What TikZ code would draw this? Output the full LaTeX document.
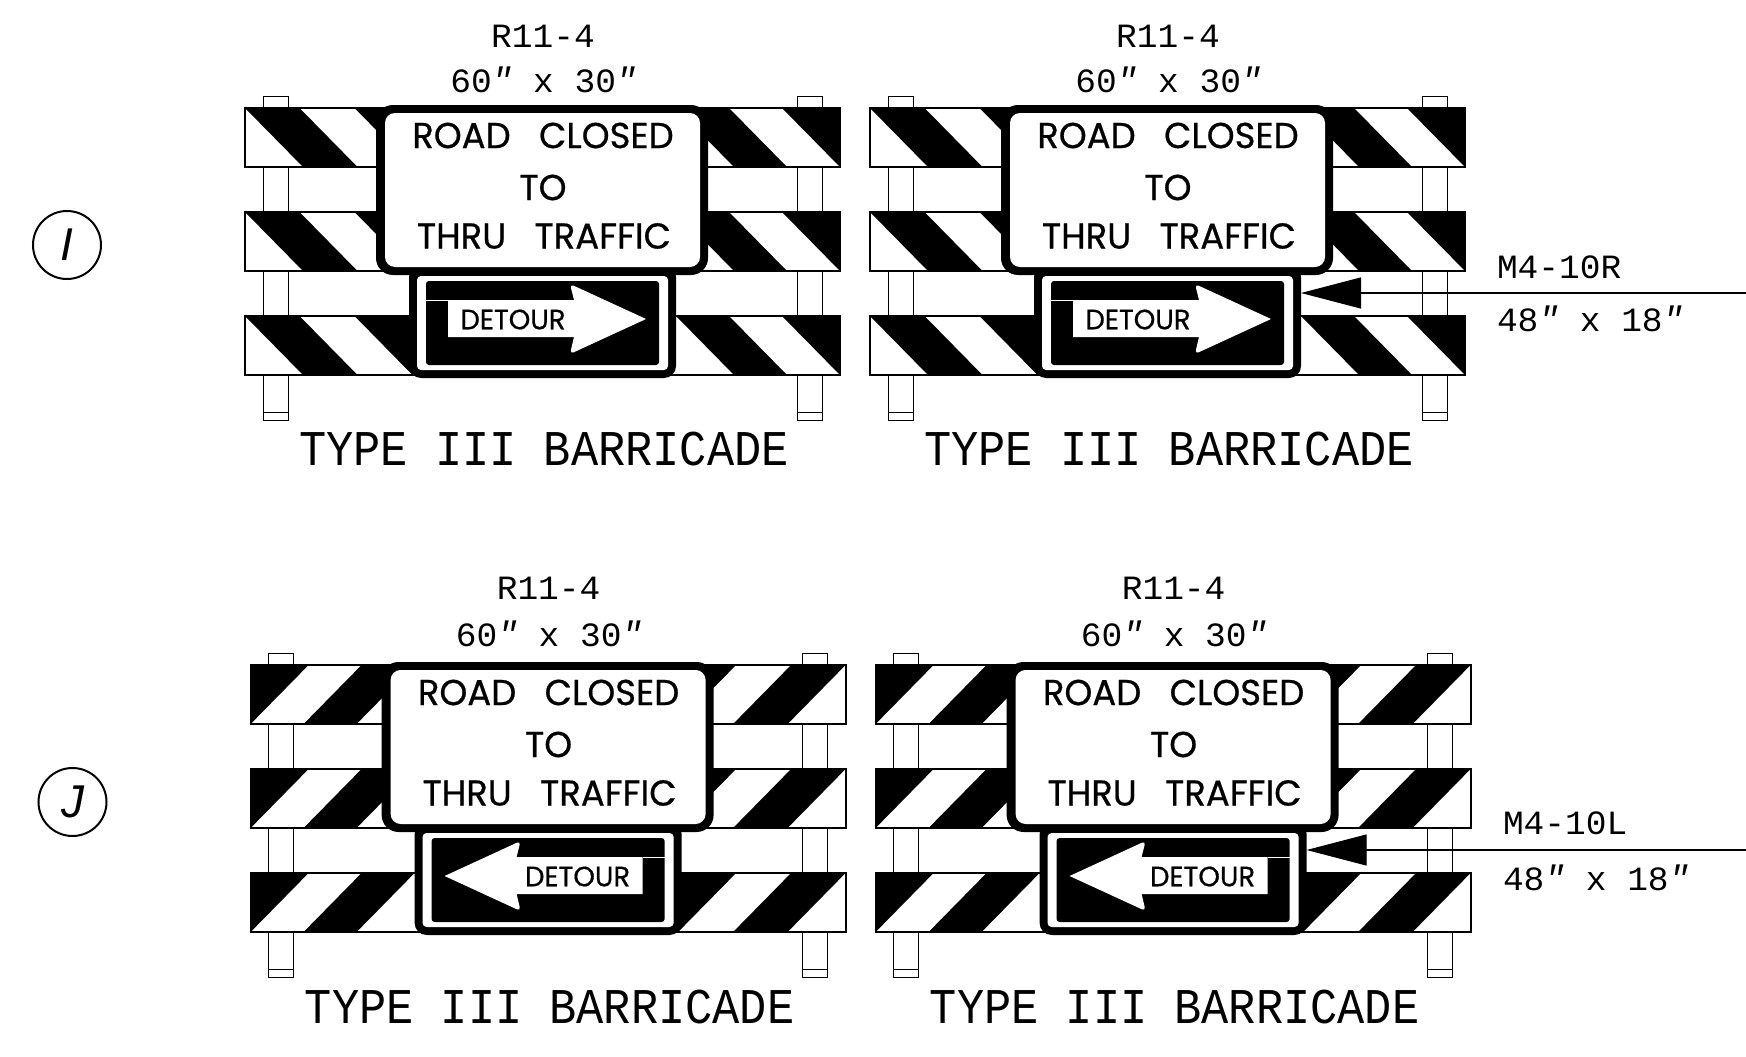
\documentclass[tikz,border=0pt]{standalone}
\usepackage{fontspec}
\usetikzlibrary{arrows.meta}
\setmainfont{Liberation Sans}
\newfontfamily\cadfont{Liberation Mono}
\newfontfamily\signfont[FakeBold=0.6]{Poppins}
\newcommand{\dprime}{{\itshape\raisebox{1pt}{″}}}
\newcommand{\cadsmall}[1]{{\cadfont\fontsize{34}{34}\selectfont\scalebox{1.015}[1]{#1}}}
\newcommand{\cadbig}[1]{{\cadfont\fontsize{50}{50}\selectfont\scalebox{0.906}[1]{#1}}}
\newcommand{\signtxt}[3]{{\signfont\fontsize{#1}{#1}\selectfont\scalebox{#2}[1]{#3}}}
\tikzset{
  panel/.style={draw=black,fill=white,line width=1.8pt},
  post/.style={draw=black,fill=white,line width=1pt},
  blackbox/.style={fill=black,inner sep=0pt,outer sep=0pt,rounded corners=#1},
  whitebox/.style={fill=white,inner sep=0pt,outer sep=0pt,rounded corners=#1},
  label/.style={inner sep=0pt,outer sep=0pt,anchor=center},
  mark circle/.style={circle,draw=black,line width=2pt,minimum size=68pt,inner sep=0pt},
  leader/.style={draw=black,line width=1.2pt,-{Triangle[length=60pt,width=31pt]}}
}
% #1 top y of a panel row
\newcommand{\panelrow}[1]{%
  \begin{scope}
    \clip (245,#1) rectangle (840,#1+59);
    \foreach \a/\w in {245/54.5,354.5/54.5,676/53,782/120}{
      \fill[black] (\a,#1) -- (\a+\w,#1) -- (\a+\w+58,#1+59) -- (\a+58,#1+59) -- cycle;
    }
  \end{scope}
  \draw[panel,fill=none] (245,#1) rectangle (840,#1+59);
}
% #1 prefix, #2 dx, #3 dy, #4 mirror, #5 offset of R11-4, #6 offset of size, #7 offset of title
\newcommand{\barricade}[7]{%
  \begin{scope}[shift={(#2,#3)}]
    \begin{scope}[shift={(542.5,0)},xscale=#4,shift={(-542.5,0)}]
      \draw[post] (263,96) rectangle (288,420);
      \draw[post] (263,412) -- (288,412);
      \draw[post] (797,96) rectangle (822,420);
      \draw[post] (797,412) -- (822,412);
      \fill[white] (245,108) rectangle (840,167);
      \fill[white] (245,212) rectangle (840,271);
      \fill[white] (245,316) rectangle (840,374);
      \panelrow{108}
      \panelrow{212}
      \panelrow{316}
    \end{scope}
    \node[blackbox=12pt,minimum width=267pt,minimum height=113pt] (#1m4) at (542.5,321.5) {};
    \node[whitebox=4pt,minimum width=251pt,minimum height=94pt] (#1m4w) at (542.5,323) {};
    \node[blackbox=3pt,minimum width=233pt,minimum height=84pt] (#1m4b) at (542.5,323) {};
    \begin{scope}[shift={(542.5,0)},xscale=#4,shift={(-542.5,0)}]
      \fill[white] (448,300) -- (574,300) [rounded corners=4pt] -- (570,284) [sharp corners] -- (646,319) [rounded corners=4pt] -- (570,354) [sharp corners] -- (574,337) -- (448,337) -- cycle;
      \draw[white,line width=0.35pt] (426,300) -- (448,300);
    \end{scope}
    \node[label] (#1det) at ({542.5-29.5*#4},319.5) {\signtxt{28}{0.98}{DETOUR}};
    \node[blackbox=17pt,minimum width=332pt,minimum height=170pt] (#1r11) at (542,190) {};
    \node[whitebox=10pt,minimum width=315pt,minimum height=154pt] (#1r11w) at (542.5,190) {};
    \node[label] (#1l1) at (543,135.5) {\signtxt{36}{0.985}{ROAD\hspace{0.8em}CLOSED}};
    \node[label] (#1l2) at (543,187.5) {\signtxt{36}{0.985}{TO}};
    \node[label] (#1l3) at (544,236) {\signtxt{36}{0.985}{THRU\hspace{0.8em}TRAFFIC}};
    \node[label] (#1code) at (543,36+#5) {\cadsmall{R11-4}};
    \node[label] (#1size) at (543.5,80+#6) {\cadsmall{60\dprime{} x 30\dprime}};
    \node[label] (#1title) at (544,449+#7) {\cadbig{TYPE III BARRICADE}};
  \end{scope}
}
\begin{document}
\begin{tikzpicture}[x=1pt,y=-1pt]
  \useasboundingbox (0,0) rectangle (1746,1057);
  \fill[white] (0,0) rectangle (1746,1057);
  \barricade{a}{0}{0}{1}{0}{0}{0}
  \barricade{b}{625}{0}{1}{0}{0}{0}
  \barricade{c}{5.6}{557}{-1}{-5}{-3}{1}
  \barricade{d}{630.6}{557}{-1}{-5}{-3}{1}
  \node[mark circle] (m1) at (67,245) {\fontsize{46}{46}\selectfont\itshape I};
  \node[mark circle] (m2) at (72.5,802) {\fontsize{46}{46}\selectfont\itshape J};
  \coordinate (e1) at (1746,293);
  \coordinate (e2) at (1746,850);
  \draw[leader] (e1) -- (e1 -| bm4.east);
  \draw[leader] (e2) -- (e2 -| dm4.east);
  \node[label,anchor=west] (t1) at (1497,267) {\cadsmall{M4-10R}};
  \node[label,anchor=west] (t2) at (1497,318.5) {\cadsmall{48\dprime{} x 18\dprime}};
  \node[label,anchor=west] (t3) at (1503,823) {\cadsmall{M4-10L}};
  \node[label,anchor=west] (t4) at (1503,878) {\cadsmall{48\dprime{} x 18\dprime}};
\end{tikzpicture}
\end{document}
